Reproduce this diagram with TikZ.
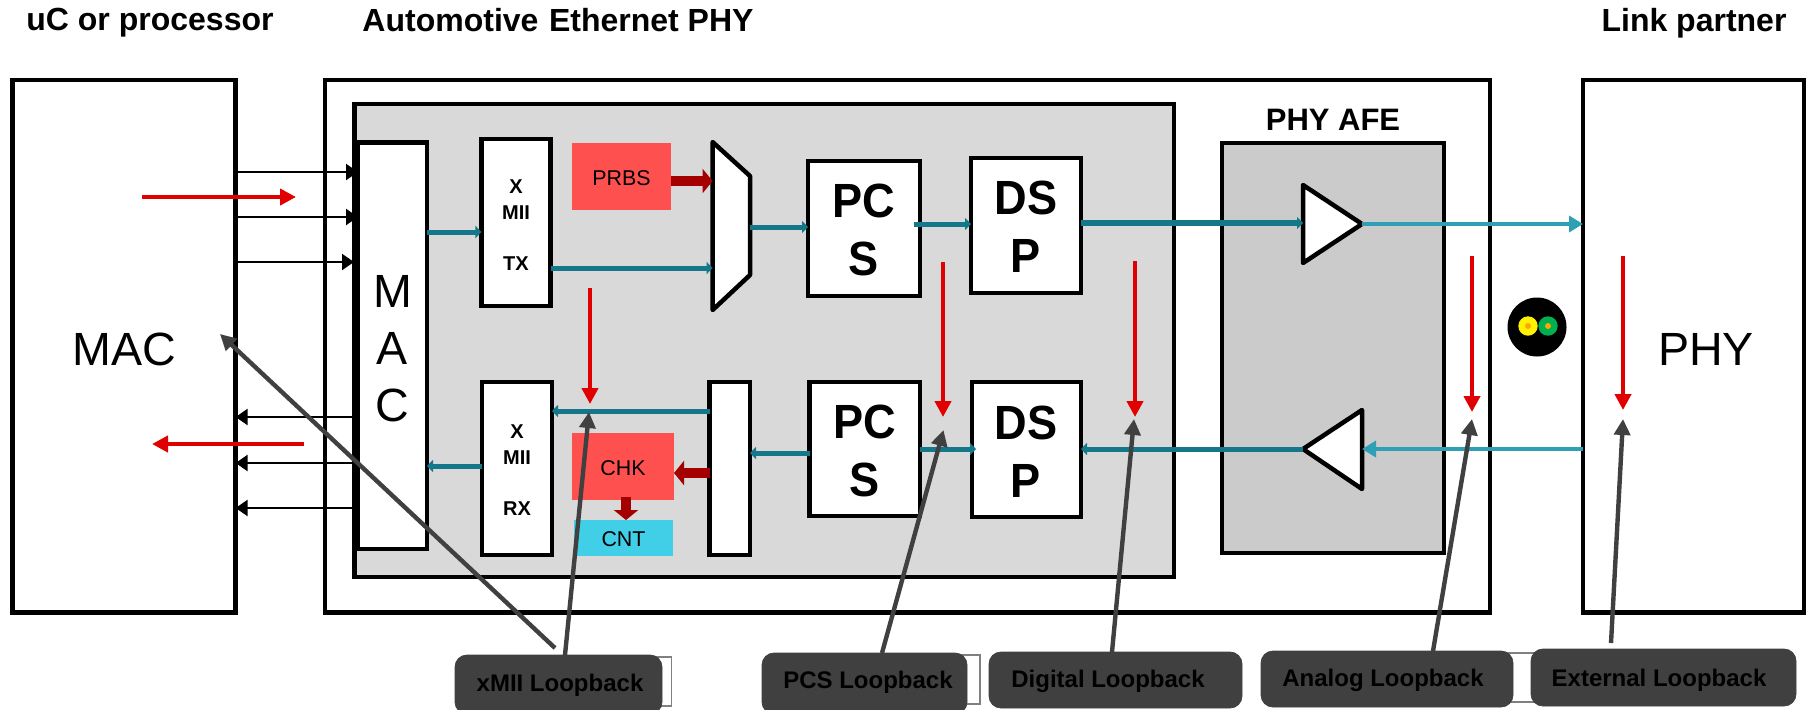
\documentclass[tikz,border=0pt]{standalone}
\usepackage{fontspec}
\setmainfont{Liberation Sans}
\newfontfamily\blkfont[FakeStretch=0.94]{Liberation Sans}
\usetikzlibrary{arrows.meta}
\definecolor{tealD}{HTML}{15778A}
\definecolor{tealL}{HTML}{2E9FB5}
\definecolor{redA}{HTML}{E00000}
\definecolor{redD}{HTML}{A50000}
\definecolor{redF}{HTML}{FF5050}
\definecolor{cyanF}{HTML}{41CFE8}
\definecolor{grayA}{HTML}{D9D9D9}
\definecolor{grayB}{HTML}{CBCBCB}
\definecolor{grayL}{HTML}{404040}
\tikzset{
  base/.style={rectangle,inner sep=0pt,outer sep=0pt,align=center},
  blk/.style={base,draw=black,line width=2.25pt,fill=white},
  graybox/.style={base,draw=black,line width=2.25pt,fill=grayA},
  afebox/.style={base,draw=black,line width=2.25pt,fill=grayB},
  redfill/.style={base,fill=redF},
  cyanfill/.style={base,fill=cyanF},
  lblbox/.style={base,rounded corners=6pt,fill=grayL,draw=grayL},
  ghost/.style={base,draw=gray,line width=0.8pt,fill=white},
  title/.style={inner sep=0pt,outer sep=0pt,font=\fontsize{16}{19}\selectfont\bfseries},
  big/.style={base,font=\fontsize{23.3}{28.5}\selectfont},
  bigb/.style={base,font=\fontsize{24}{29}\blkfont\selectfont\bfseries},
  xmii/.style={base,font=\fontsize{10}{12.8}\selectfont\bfseries},
  small/.style={base,font=\fontsize{10.7}{13}\selectfont},
  lbl/.style={base,font=\fontsize{12}{14}\selectfont\bfseries},
  sig/.style={draw=black,line width=1.1pt,-{Triangle[length=6pt,width=8pt]}},
  tealT/.style={draw=tealD,line width=2.5pt,-{Triangle[length=3pt,width=6pt]}},
  tealS/.style={draw=tealL,line width=2pt,-{Triangle[length=7pt,width=8pt]}},
  redV/.style={draw=redA,line width=2.4pt,-{Triangle[length=8pt,width=8pt]}},
  redH/.style={draw=redD,line width=5.3pt,-{Triangle[length=5pt,width=12pt]}},
  loop/.style={draw=grayL,line width=2.2pt,-{Triangle[length=8pt,width=8pt]}},
  amp/.style={draw=black,line width=2.25pt,fill=white,line join=round},
}
\newcommand{\pblk}[6]{%
  \pgfmathsetmacro{\cxv}{(#2+#4)/2}\pgfmathsetmacro{\cyv}{(#3+#5)/2}%
  \pgfmathsetmacro{\wv}{(#4-#2)*0.5}\pgfmathsetmacro{\hv}{(#5-#3)*0.5}%
  \node[#6,minimum width=\wv pt,minimum height=\hv pt] (#1) at (\cxv,\cyv) {};}
\begin{document}
\begin{tikzpicture}[x=0.5pt,y=-0.5pt]
\useasboundingbox (0,0) rectangle (1808,709);
% main boxes
\pblk{macout}{12.6}{80}{235.6}{612.7}{blk}
\pblk{phyout}{325}{80}{1490}{612.7}{blk}
\pblk{linkout}{1583}{80}{1804}{612.7}{blk}
\pblk{digi}{354.5}{104}{1174}{577}{graybox}
\pblk{afe}{1222}{143}{1444}{553}{afebox}
% titles
\node[title] (t1) at (150,23) {uC or processor};
\node[title] (t2) at (558,20) {Automotive\hspace{0.33em}Ethernet PHY};
\node[title] (t3) at (1694,23) {Link partner};
\node[title,font=\fontsize{15.5}{18}\selectfont\bfseries] (t4) at (1333,120) {PHY AFE};
% fills
\pblk{prbs}{572}{143}{671}{210}{redfill}
\pblk{chk}{572}{433}{674}{500}{redfill}
\pblk{cnt}{574}{520}{673}{556}{cyanfill}
% inner blocks
\pblk{macin}{358}{142.7}{427}{549}{blk}
\pblk{xtx}{481.4}{139}{550.6}{306}{blk}
\pblk{xrx}{482}{382}{552}{555}{blk}
\pblk{pcst}{808}{161}{920}{296}{blk}
\pblk{dspt}{971}{158}{1081}{293}{blk}
\pblk{pcsb}{809.5}{382}{920}{516}{blk}
\pblk{dspb}{972}{382}{1081}{517}{blk}
\pblk{demux}{709.5}{382}{750}{555}{blk}
% mux as shape
\draw[amp] (712.6,142) -- (750,176) -- (750,275) -- (712.6,310) -- cycle;
\coordinate (muxw) at (712.6,226);
\coordinate (muxe) at (750,226);
% amplifiers
\draw[amp] (1303,185) -- (1362,224) -- (1303,263) -- cycle;
\coordinate (txin) at (1303,224);
\coordinate (txout) at (1362,224);
\draw[amp] (1362,410) -- (1303,449) -- (1362,489) -- cycle;
\coordinate (rxin) at (1362,449);
\coordinate (rxout) at (1303,449);
% texts
\node[big] (mactxt) at (124,349) {MAC};
\node[big] (phytxt) at (1706,349) {PHY};
\node[big] (macintxt) at (392.5,349) {M\\A\\C};
\node[small] (prbstxt) at (621.5,178.5) {PRBS};
\node[small] (chktxt) at (623,468.5) {CHK};
\node[small] (cnttxt) at (623.5,539) {CNT};
\node[xmii] (xtxt) at (516,225) {X\\MII\\ \\TX};
\node[xmii] (xrxt) at (517,470) {X\\MII\\ \\RX};
\node[bigb] (pcstt) at (864,230) {PC\\S};
\node[bigb] (dsptt) at (1026,227) {DS\\P};
\node[bigb] (pcsbt) at (865,451) {PC\\S};
\node[bigb] (dspbt) at (1026,452) {DS\\P};
% black signal arrows
\draw[sig] (macout.east |- 0,172) -- (macin.west |- 0,172);
\draw[sig] (macout.east |- 0,217) -- (macin.west |- 0,217);
\draw[sig] (macout.east |- 0,262) -- (354,262);
\draw[sig] (macin.west |- 0,417) -- (macout.east |- 0,417);
\draw[sig] (macin.west |- 0,463) -- (macout.east |- 0,463);
\draw[sig] (macin.west |- 0,508) -- (macout.east |- 0,508);
% teal arrows
\draw[tealT] (macin.east |- 0,232) -- (xtx.west |- 0,232);
\draw[tealT] (xtx.east |- 0,268) -- (muxw |- 0,268);
\draw[tealT] (muxe |- 0,227) -- (pcst.west |- 0,227);
\draw[tealT] (914,224) -- (dspt.west |- 0,224);
\draw[tealT,line width=3pt] (dspt.east |- 0,223) -- (txin |- 0,223);
\draw[tealS] (txout) -- (linkout.west |- txout);
\draw[tealS] (linkout.west |- rxin) -- (rxin);
\draw[tealT] (rxout) -- (dspb.east |- rxout);
\draw[tealT] (pcsb.east |- 0,449) -- ([xshift=2pt]dspb.west |- 0,449);
\draw[tealT] (pcsb.west |- 0,453) -- (demux.east |- 0,453);
\draw[tealT] (demux.west |- 0,411) -- (xrx.east |- 0,411);
\draw[tealT] (xrx.west |- 0,466) -- (macin.east |- 0,466);
% dark red arrows
\draw[redH] (prbs.east |- 0,181) -- (muxw |- 0,181);
\draw[redH] (demux.west |- 0,473) -- (chk.east |- 0,473);
\draw[redH] (626,497) -- (cnt.north -| 626,0);
% red arrows
\coordinate (rs1) at (142,197);  \coordinate (re1) at (296,197);
\coordinate (rs2) at (304,444);  \coordinate (re2) at (152,444);
\coordinate (rs3) at (590,288);  \coordinate (re3) at (590,404);
\coordinate (rs4) at (943,262);  \coordinate (re4) at (943,417);
\coordinate (rs5) at (1135,261); \coordinate (re5) at (1135,417);
\coordinate (rs6) at (1472,256); \coordinate (re6) at (1472,412);
\coordinate (rs7) at (1623,256); \coordinate (re7) at (1623,410);
\foreach \i in {1,...,7} {\draw[redV] (rs\i) -- (re\i);}
% cable
\node[circle,fill=black,minimum size=29.5pt,inner sep=0pt,outer sep=0pt] (cable) at (1537,327) {};
\node[circle,fill=yellow,minimum size=9.7pt,inner sep=0pt] (wy) at (1528,326) {};
\node[circle,fill=orange!70!yellow,minimum size=3pt,inner sep=0pt] (wyc) at (1528,326) {};
\node[circle,fill={rgb,255:red,0;green,176;blue,80},minimum size=9.7pt,inner sep=0pt] (wg) at (1548,326) {};
\node[circle,fill=orange!70!yellow,minimum size=3pt,inner sep=0pt] (wgc) at (1548,326) {};
% ghost outlines behind labels
\pblk{gx}{600}{657}{671.5}{706}{ghost}
\pblk{gp}{900}{655}{980}{704}{ghost}
\pblk{ga}{1400}{653}{1600}{702}{ghost}
% loopback labels
\pblk{lbx}{455}{655}{662}{714}{lblbox}
\pblk{lbp}{762}{653}{967}{714}{lblbox}
\pblk{lbd}{989}{652}{1242}{708}{lblbox}
\pblk{lba}{1261}{651}{1513}{707}{lblbox}
\pblk{lbe}{1531}{649}{1796}{706}{lblbox}
\node[lbl] (tx) at (560,685) {xMII Loopback};
\node[lbl] (tp) at (868,682) {PCS Loopback};
\node[lbl] (td) at (1108,681) {Digital Loopback};
\node[lbl] (ta) at (1383,680) {Analog Loopback};
\node[lbl] (te) at (1659,680) {External Loopback};
% loopback arrows
\coordinate (fm) at (555,648); \coordinate (tm) at (220,334);
\coordinate (tipx) at (589,412);
\coordinate (tipp) at (943.5,430);
\coordinate (tipd) at (1134,419);
\coordinate (tipa) at (1472,419);
\coordinate (fe) at (1611,643); \coordinate (tipe) at (1623,419);
\draw[loop] (fm) -- (tm);
\draw[loop] (lbx.north -| 565,0) -- (tipx);
\draw[loop] (lbp.north -| 882,0) -- (tipp);
\draw[loop] (lbd.north -| 1112,0) -- (tipd);
\draw[loop] (lba.north -| 1433,0) -- (tipa);
\draw[loop] (fe) -- (tipe);
\end{tikzpicture}
\end{document}
